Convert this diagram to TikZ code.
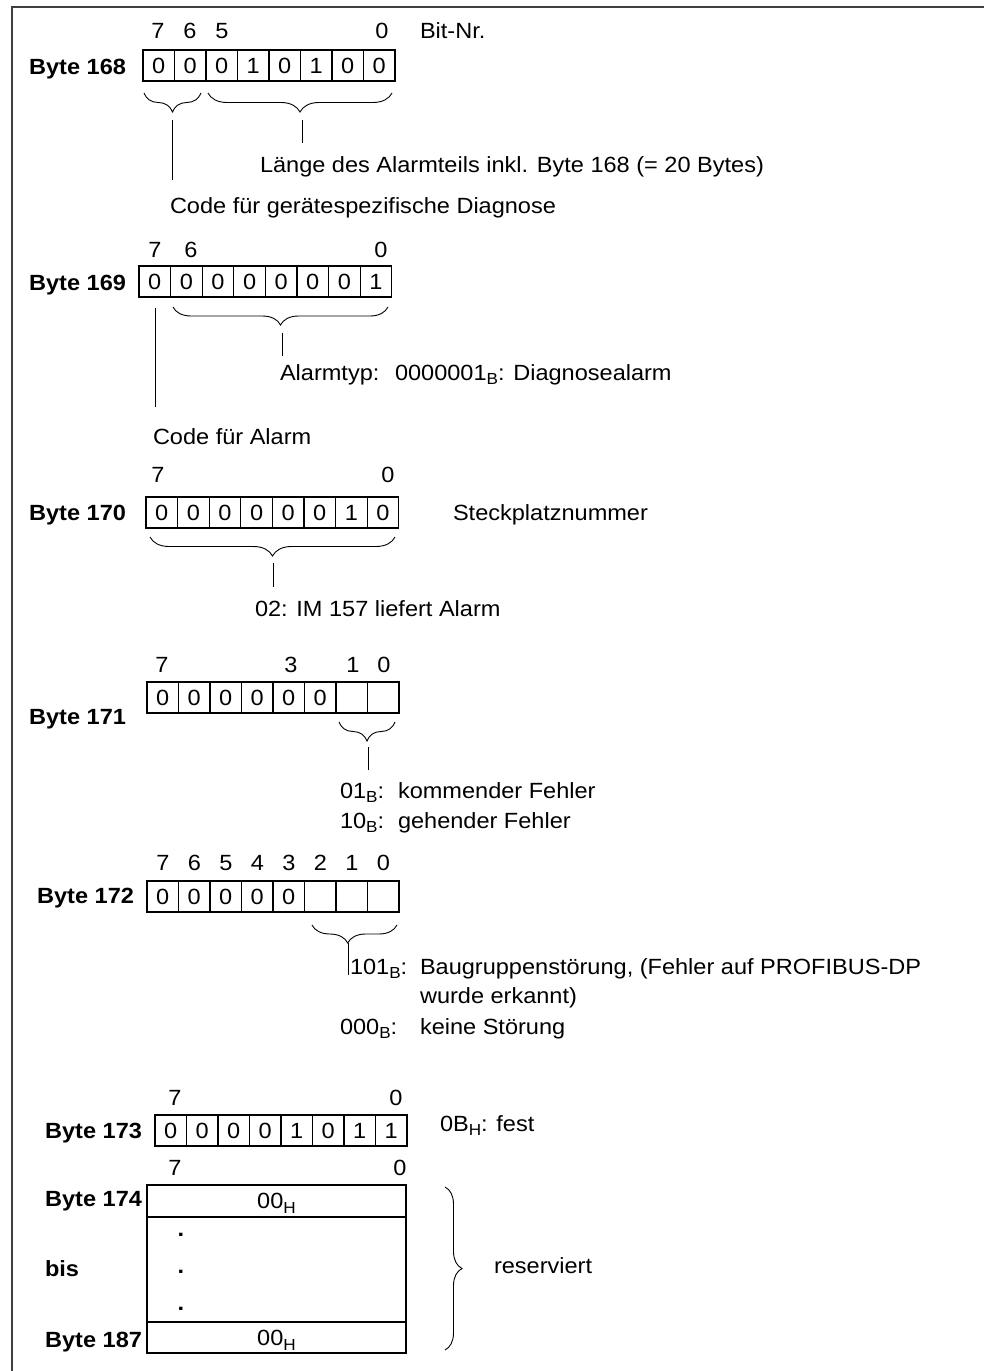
\documentclass[tikz,border=0pt]{standalone}
\usepackage{fontspec}
\setmainfont{Liberation Sans}[FakeStretch=1.07]
\usetikzlibrary{decorations.pathreplacing,calc}
\newcommand\mysub[1]{\raisebox{-0.22em}{\fontsize{16}{16}\selectfont #1}}
\begin{document}
\begin{tikzpicture}[x=1pt,y=-1pt,
  every node/.style={font=\fontsize{22}{26}\selectfont, inner sep=0pt, outer sep=0pt},
  cell/.style={draw, line width=1.1pt, minimum width=31.5pt, minimum height=31pt, anchor=north west, text height=15.7pt, text depth=0pt},
  bitnr/.style={anchor=base},
  lbl/.style={anchor=base east, font=\fontsize{22}{26}\selectfont\bfseries},
  txt/.style={anchor=base west},
  brc/.style={decorate, decoration={brace, mirror, amplitude=#1}, line width=0.9pt},
  lead/.style={line width=0.9pt},
  blk/.style={draw, line width=1.1pt, minimum width=259pt, anchor=north west, text height=15.7pt, text depth=0pt},
]
\useasboundingbox (0,0) rectangle (984,1371);
\draw[line width=1.6pt, black!75] (12,1371) -- (12,7) -- (984,7);

% ---------- Byte 168
\node[bitnr] (n168-7) at (158,38) {7};
\node[bitnr] (n168-6) at (190,38) {6};
\node[bitnr] (n168-5) at (222,38) {5};
\node[bitnr] (n168-0) at (382,38) {0};
\node[txt] (bitnrtxt) at (420,38) {Bit-Nr.};
\node[lbl] (l168) at (126,74) {Byte 168};
\foreach \d [count=\i from 0] in {0,0,0,1,0,1,0,0}
  \node[cell] (c168-\i) at ({143+31.5*\i},50) {\d};
\draw[brc=19pt] (144,93) -- (201,93);
\draw[brc=19pt] (208,93) -- (392,93);
\coordinate (k168a1) at (172,120); \coordinate (k168a2) at (172,180);
\coordinate (k168b1) at (302,120); \coordinate (k168b2) at (302,143);
\draw[lead] (k168a1) -- (k168a2);
\draw[lead] (k168b1) -- (k168b2);
\node[txt] (t168a) at (260,172) {Länge des Alarmteils inkl. Byte 168 (= 20 Bytes)};
\node[txt] (t168b) at (170,213) {Code für gerätespezifische Diagnose};

% ---------- Byte 169
\node[bitnr] (n169-7) at (155,257) {7};
\node[bitnr] (n169-6) at (191,257) {6};
\node[bitnr] (n169-0) at (381,257) {0};
\node[lbl] (l169) at (126,290) {Byte 169};
\foreach \d [count=\i from 0] in {0,0,0,0,0,0,0,1}
  \node[cell] (c169-\i) at ({139+31.6*\i},266) {\d};
\draw[brc=18pt] (173,307) -- (388,307);
\coordinate (k169a1) at (282,333); \coordinate (k169a2) at (282,356);
\coordinate (k169b1) at (155,308); \coordinate (k169b2) at (155,407);
\draw[lead] (k169a1) -- (k169a2);
\draw[lead] (k169b1) -- (k169b2);
\node[txt] (t169a) at (280,380) {Alarmtyp:};
\node[txt] (t169b) at (395,380) {0000001\mysub{B}: Diagnosealarm};
\node[txt] (t169c) at (153,444) {Code für Alarm};

% ---------- Byte 170
\node[bitnr] (n170-7) at (158,482) {7};
\node[bitnr] (n170-0) at (388,482) {0};
\node[lbl] (l170) at (126,520) {Byte 170};
\foreach \d [count=\i from 0] in {0,0,0,0,0,0,1,0}
  \node[cell] (c170-\i) at ({146+31.6*\i},497) {\d};
\node[txt] (t170a) at (453,520) {Steckplatznummer};
\draw[brc=19pt] (150,537) -- (395,537);
\coordinate (k170a1) at (273,563); \coordinate (k170a2) at (273,587);
\draw[lead] (k170a1) -- (k170a2);
\node[txt] (t170b) at (255,616) {02: IM 157 liefert Alarm};

% ---------- Byte 171
\node[bitnr] (n171-7) at (162,672) {7};
\node[bitnr] (n171-3) at (291,672) {3};
\node[bitnr] (n171-1) at (353,672) {1};
\node[bitnr] (n171-0) at (384,672) {0};
\foreach \d [count=\i from 0] in {0,0,0,0,0,0,{},{}}
  \node[cell] (c171-\i) at ({147+31.5*\i},682) {\d};
\node[lbl] (l171) at (126,724) {Byte 171};
\draw[brc=19pt] (339,722) -- (395,722);
\coordinate (k171a1) at (368,747); \coordinate (k171a2) at (368,770);
\draw[lead] (k171a1) -- (k171a2);
\node[txt] (t171a) at (340,798) {01\mysub{B}:};
\node[txt] (t171b) at (398,798) {kommender Fehler};
\node[txt] (t171c) at (340,828) {10\mysub{B}:};
\node[txt] (t171d) at (398,828) {gehender Fehler};

% ---------- Byte 172
\foreach \b [count=\i from 0] in {7,6,5,4,3,2,1,0}
  \node[bitnr] (n172-\b) at ({163+31.5*\i},870) {\b};
\node[lbl] (l172) at (134,903) {Byte 172};
\foreach \d [count=\i from 0] in {0,0,0,0,0,{},{},{}}
  \node[cell] (c172-\i) at ({147+31.5*\i},881) {\d};
\draw[decorate, decoration={brace, mirror, amplitude=18pt, aspect=0.42}, line width=0.9pt] (312,925) -- (397,925);
\coordinate (k172a1) at (348,943); \coordinate (k172a2) at (348,975);
\draw[lead] (k172a1) -- (k172a2);
\node[txt] (t172a) at (350,974) {101\mysub{B}:};
\node[txt] (t172b) at (420,974) {Baugruppenstörung, (Fehler auf PROFIBUS-DP};
\node[txt] (t172c) at (420,1003) {wurde erkannt)};
\node[txt] (t172d) at (340,1034) {000\mysub{B}:};
\node[txt] (t172e) at (420,1034) {keine Störung};

% ---------- Byte 173
\node[bitnr] (n173-7) at (175,1105) {7};
\node[bitnr] (n173-0) at (396,1105) {0};
\node[lbl] (l173) at (142,1138) {Byte 173};
\foreach \d [count=\i from 0] in {0,0,0,0,1,0,1,1}
  \node[cell] (c173-\i) at ({155+31.5*\i},1115) {\d};
\node[txt] (t173a) at (440,1131) {0B\mysub{H}: fest};

% ---------- Byte 174 .. 187
\node[bitnr] (n174-7) at (175,1175) {7};
\node[bitnr] (n174-0) at (400,1175) {0};
\node[blk, minimum height=32pt] (r174) at (147,1185) {00\mysub{H}};
\node[blk, minimum height=105pt] (rmid) at (147,1217) {};
\node[blk, minimum height=31pt] (r187) at (147,1322) {00\mysub{H}};
\node[bitnr, font=\fontsize{22}{26}\selectfont\bfseries] (d1) at (181,1236) {.};
\node[bitnr, font=\fontsize{22}{26}\selectfont\bfseries] (d2) at (181,1273) {.};
\node[bitnr, font=\fontsize{22}{26}\selectfont\bfseries] (d3) at (181,1310) {.};
\node[lbl] (l174) at (142,1206) {Byte 174};
\node[txt, font=\fontsize{22}{26}\selectfont\bfseries] (lbis) at (45,1276) {bis};
\node[lbl] (l187) at (142,1347) {Byte 187};
\draw[decorate, decoration={brace, amplitude=17pt}, line width=0.9pt] (445,1187) -- (445,1350);
\node[txt] (t174) at (494,1273) {reserviert};
\end{tikzpicture}
\end{document}
